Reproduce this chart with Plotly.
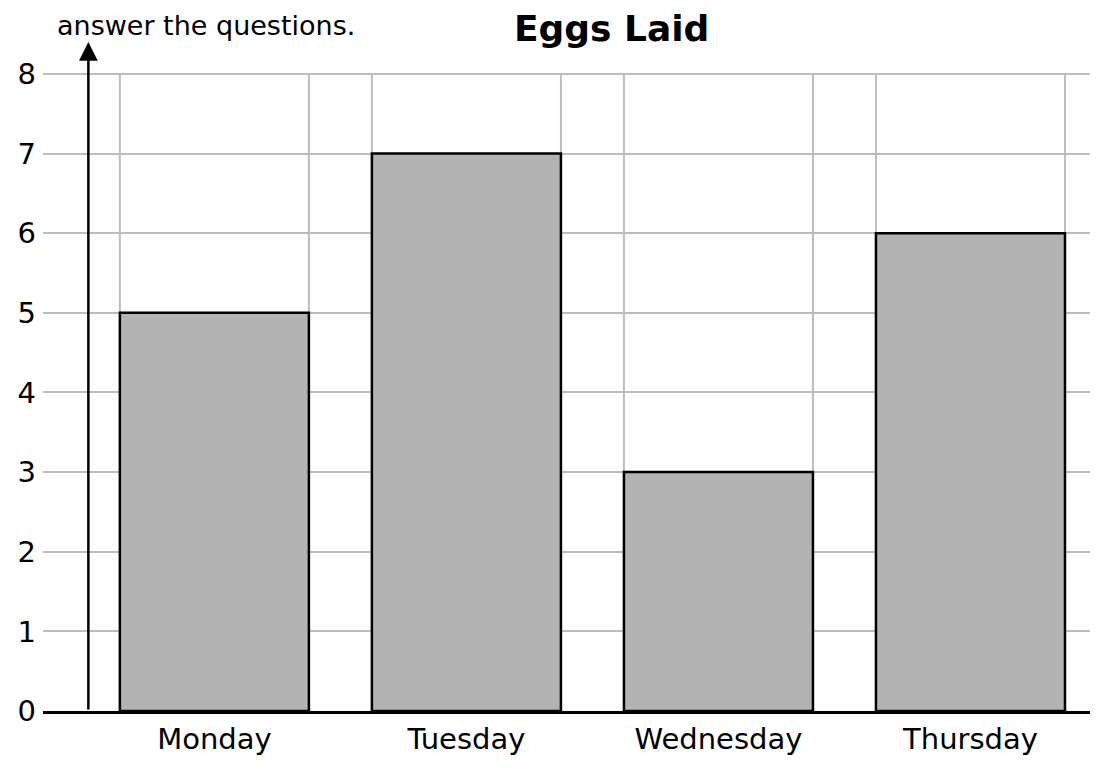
import plotly.graph_objects as go

days = ["Monday", "Tuesday", "Wednesday", "Thursday"]
eggs = [5, 7, 3, 6]
y_ticks = [0, 1, 2, 3, 4, 5, 6, 7, 8]

font_family = "Century Gothic, URW Gothic, DejaVu Sans, sans-serif"
bar_width = 0.75
grid_color = "#bdbdbd"

# the page body has an 8px margin, so the figure is 8px smaller on each side
W, H = 1090, 768
m_left, m_top, m_bottom = 35, 34, 65
plot_h = H - m_top - m_bottom

fig = go.Figure()
fig.add_trace(go.Bar(
    x=days,
    y=eggs,
    width=bar_width,
    marker=dict(color="#b3b3b3", line=dict(color="black", width=2.5)),
    hoverinfo="x+y",
))

# vertical grid lines sit on the bar edges, not on the category centres
shapes = []
for i in range(len(days)):
    for edge in (i - bar_width / 2, i + bar_width / 2):
        shapes.append(dict(type="line", xref="x", yref="y", x0=edge, x1=edge,
                           y0=0, y1=y_ticks[-1], layer="below",
                           line=dict(color=grid_color, width=2)))
shapes.append(dict(type="line", xref="x", yref="y", x0=len(days) - 0.5, x1=len(days) - 0.5,
                   y0=0, y1=y_ticks[-1], layer="below",
                   line=dict(color=grid_color, width=2)))

fig.update_layout(
    width=W,
    height=H,
    margin=dict(l=m_left, r=0, t=m_top, b=m_bottom),
    plot_bgcolor="white",
    paper_bgcolor="white",
    showlegend=False,
    bargap=0.25,
    font=dict(family=font_family, color="black", size=29),
    title=dict(text="<b>Eggs Laid</b>", x=0.539, xanchor="center", xref="paper",
               y=1 - 8 / H, yanchor="top", yref="container", pad=dict(t=0, b=0),
               font=dict(size=36, color="black")),
    shapes=shapes,
)

fig.update_xaxes(
    range=[-0.68, 3.506],
    showgrid=False,
    showline=True,
    linecolor="black",
    linewidth=2.5,
    ticks="",
    tickfont=dict(size=29),
)
fig.update_yaxes(
    range=[0, 8.4],
    tickvals=y_ticks,
    showgrid=True,
    gridcolor=grid_color,
    gridwidth=2,
    zeroline=False,
    showline=False,
    ticks="",
    ticklabelstandoff=6,
    tickfont=dict(size=29),
)

# y axis drawn as an arrow
fig.add_annotation(x=-0.5, y=8.4, ax=-0.5, ay=0, xref="x", yref="y", axref="x", ayref="y",
                   text="", showarrow=True, arrowhead=2, arrowsize=1.5, arrowwidth=2.5,
                   arrowcolor="black")

# worksheet text at the very top of the picture
fig.add_annotation(text="answer the questions.", xref="paper", yref="paper",
                   x=0.0114, y=1 + m_top / plot_h, xanchor="left", yanchor="top",
                   showarrow=False, font=dict(size=27, color="black"))

fig.write_html("out.html")
